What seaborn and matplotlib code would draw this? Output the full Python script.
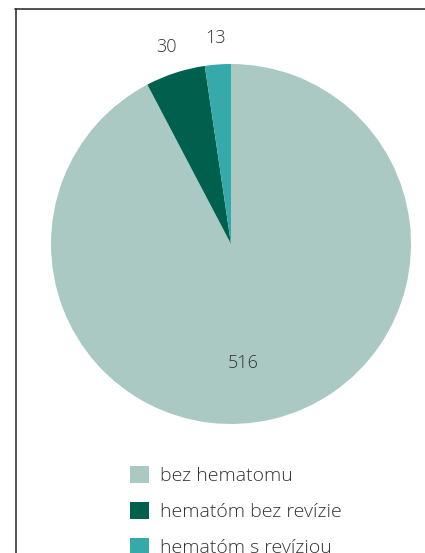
import matplotlib
matplotlib.use("Agg")
import matplotlib.pyplot as plt
import seaborn as sns
from matplotlib.lines import Line2D

# Data
categories = ["bez hematomu", "hematóm bez revízie", "hematóm s revíziou"]
counts = [516, 30, 13]
colors = ["#aac9c2", "#00604e", "#36a9aa"]

sns.set_theme(style="white")
plt.rcParams["font.family"] = ["Open Sans", "DejaVu Sans"]

W, H = 425, 553
fig = plt.figure(figsize=(W / 100, H / 100), dpi=100)

# pie area: centre ~ (231, 244) px, radius ~180 px
cx, cy, r = 231, 244, 180
ax = fig.add_axes([(cx - r) / W, (H - cy - r) / H, 2 * r / W, 2 * r / H])

wedges, texts = ax.pie(
    counts,
    labels=[str(v) for v in counts],
    colors=colors,
    startangle=90,
    counterclock=False,
    labeldistance=1.15,
    textprops=dict(fontsize=13, color="#333333", fontweight="light"),
    wedgeprops=dict(linewidth=0),
)
ax.set_xlim(-1, 1)
ax.set_ylim(-1, 1)
ax.set_aspect("equal")

# the big slice's value sits inside the pie
texts[0].set_position((0.07, -0.66))
for t in texts:
    t.set_horizontalalignment("center")
    t.set_verticalalignment("center")

# legend below the pie
leg = fig.legend(
    wedges, categories,
    loc="upper left",
    bbox_to_anchor=(130 / W, 1 - 466 / H),
    frameon=False,
    prop=dict(size=14, weight="light"),
    handlelength=1.0,
    handleheight=1.0,
    handletextpad=0.55,
    labelspacing=0.85,
    borderpad=0,
    borderaxespad=0,
)
for t in leg.get_texts():
    t.set_color("#333333")

# frame lines (left and top edge of the box)
fig.add_artist(Line2D([15.5 / W, 15.5 / W], [0, 1 - 9 / H], transform=fig.transFigure,
                      color="#333333", linewidth=1.2))
fig.add_artist(Line2D([15 / W, 1], [1 - 9 / H, 1 - 9 / H], transform=fig.transFigure,
                      color="#333333", linewidth=1.2))

fig.savefig("out.png", dpi=100)
